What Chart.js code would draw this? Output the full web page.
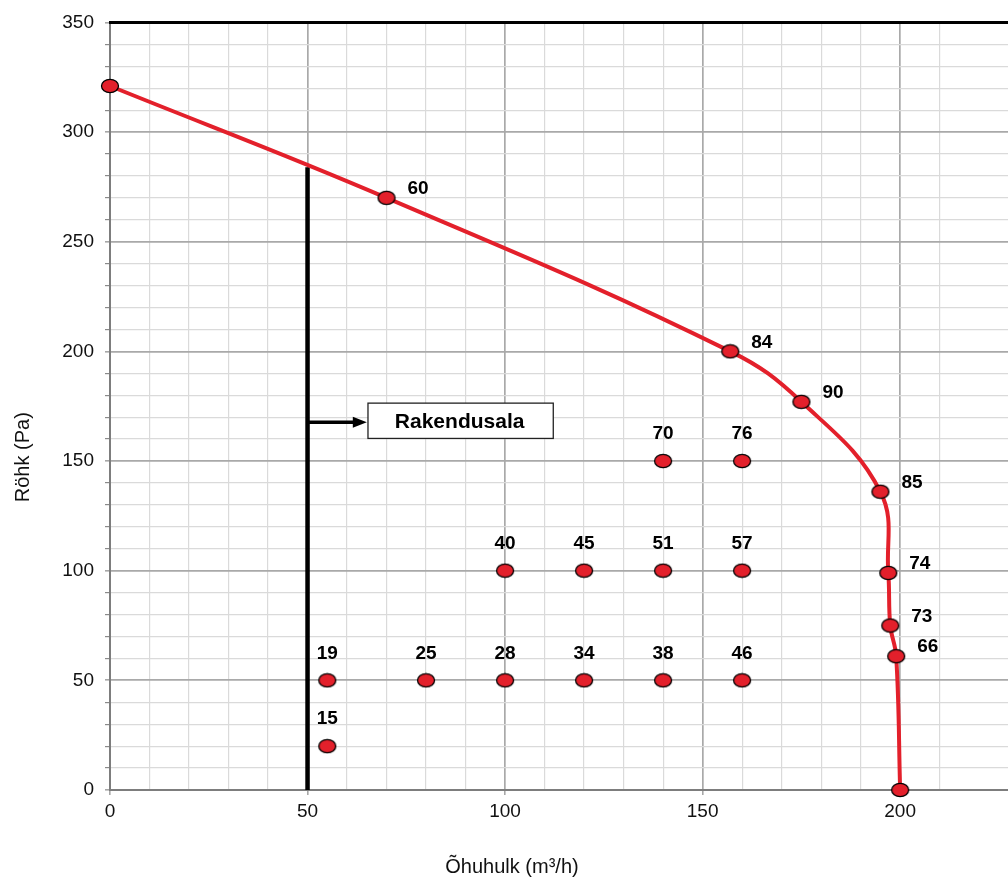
<!DOCTYPE html>
<html>
<head>
<meta charset="utf-8">
<script src="https://cdn.jsdelivr.net/npm/chart.js@4.4.1/dist/chart.umd.min.js"></script>
<style>
  html, body { margin: 0; padding: 0; background: #fff; overflow: hidden; }
  /* slightly wider than the window: the plot runs off the right edge like the original */
  #wrap { width: 1016px; height: 880px; position: relative; }
</style>
</head>
<body>
<div id="wrap"><canvas id="myChart"></canvas></div>
<script>
// fan curve (x = m3/h, y = Pa) and the sound level at each point
const curveX = [0, 70, 157, 175, 195, 197, 197.5, 199, 200];
const curveY = [321, 270, 200, 177, 136, 99, 75, 61, 0];
const curveLabels = ['', '60', '84', '90', '85', '74', '73', '66', ''];

// measured operating points
const pointX = [55, 55, 80, 100, 120, 140, 160, 100, 120, 140, 160, 140, 160];
const pointY = [20, 50, 50, 50, 50, 50, 50, 100, 100, 100, 100, 150, 150];
const pointLabels = ['15', '19', '25', '28', '34', '38', '46', '40', '45', '51', '57', '70', '76'];

// application range limit, arrow and its box
const limitX = [50, 50];
const limitY = [0, 284];
const arrowY = 167.7;
const arrowEndX = 65;
const boxX = [65.3, 112.2];
const boxY = [160.3, 176.4];
const boxText = 'Rakendusala';

const xTitle = 'Õhuhulk (m³/h)';
const yTitle = 'Röhk (Pa)';
const xMax = 227.3;
const yMax = 350;

const red = '#e3202b';
const fontFamily = "'Liberation Sans', Arial, sans-serif";

function makeDot() {
    const c = document.createElement('canvas');
    c.width = 20;
    c.height = 16;
    const g = c.getContext('2d');
    g.beginPath();
    g.ellipse(10, 8, 8.5, 6.7, 0, 0, Math.PI * 2);
    g.fillStyle = red;
    g.fill();
    g.lineWidth = 1.3;
    g.strokeStyle = '#000';
    g.stroke();
    return c;
}
const dot = makeDot();

const toXY = (xs, ys) => xs.map((x, i) => ({x: x, y: ys[i]}));
const isMajor = c => c.tick && Math.abs(c.tick.value % 50) < 1e-6;

const extras = {
    id: 'extras',
    afterDraw(chart) {
        const ctx = chart.ctx;
        const xs = chart.scales.x, ys = chart.scales.y;
        const area = chart.chartArea;
        ctx.save();

        // top frame line
        ctx.strokeStyle = '#000';
        ctx.lineWidth = 3;
        ctx.beginPath();
        ctx.moveTo(area.left - 1, area.top);
        ctx.lineTo(area.right, area.top);
        ctx.stroke();

        // arrow
        const ax0 = xs.getPixelForValue(limitX[0]);
        const ax1 = xs.getPixelForValue(arrowEndX);
        const ay = ys.getPixelForValue(arrowY);
        ctx.lineWidth = 3.5;
        ctx.beginPath();
        ctx.moveTo(ax0, ay);
        ctx.lineTo(ax1 - 10, ay);
        ctx.stroke();
        ctx.fillStyle = '#000';
        ctx.beginPath();
        ctx.moveTo(ax1, ay);
        ctx.lineTo(ax1 - 14, ay - 5.5);
        ctx.lineTo(ax1 - 14, ay + 5.5);
        ctx.closePath();
        ctx.fill();

        // box
        const bx0 = xs.getPixelForValue(boxX[0]), bx1 = xs.getPixelForValue(boxX[1]);
        const by0 = ys.getPixelForValue(boxY[1]), by1 = ys.getPixelForValue(boxY[0]);
        ctx.fillStyle = '#fff';
        ctx.fillRect(bx0, by0, bx1 - bx0, by1 - by0);
        ctx.lineWidth = 1.3;
        ctx.strokeStyle = '#222';
        ctx.strokeRect(bx0, by0, bx1 - bx0, by1 - by0);
        ctx.fillStyle = '#000';
        ctx.font = 'bold 21px ' + fontFamily;
        ctx.textAlign = 'center';
        ctx.textBaseline = 'middle';
        ctx.fillText(boxText, (bx0 + bx1) / 2 - 1, (by0 + by1) / 2 + 1);

        // point labels
        ctx.font = 'bold 19px ' + fontFamily;
        chart.getDatasetMeta(0).data.forEach((el, i) => {
            if (!curveLabels[i]) return;
            ctx.textAlign = 'left';
            ctx.fillText(curveLabels[i], el.x + 21, el.y - 9);
        });
        chart.getDatasetMeta(1).data.forEach((el, i) => {
            ctx.textAlign = 'center';
            ctx.fillText(pointLabels[i], el.x, el.y - 27);
        });

        // axis titles
        ctx.font = '20px ' + fontFamily;
        ctx.fillStyle = '#111';
        ctx.textAlign = 'center';
        ctx.fillText(xTitle, 512, chart.height - 13);
        ctx.translate(23, (area.top + chart.height) / 2 + 6);
        ctx.rotate(-Math.PI / 2);
        ctx.fillText(yTitle, 0, 0);
        ctx.restore();
    }
};

const ctx = document.getElementById('myChart').getContext('2d');

const myChart = new Chart(ctx, {
    type: 'scatter',
    data: {
        datasets: [{
            data: toXY(curveX, curveY),
            showLine: true,
            borderColor: red,
            borderWidth: 4,
            tension: 0.4,
            pointStyle: dot,
            clip: false
        }, {
            data: toXY(pointX, pointY),
            showLine: false,
            pointStyle: dot,
            clip: false
        }, {
            data: toXY(limitX, limitY),
            showLine: true,
            borderColor: '#000',
            borderWidth: 4.5,
            pointRadius: 0
        }]
    },
    options: {
        responsive: true,
        maintainAspectRatio: false,
        animation: false,
        events: [],
        layout: { padding: { top: 22, right: 0, left: 0, bottom: 0 } },
        plugins: {
            legend: { display: false },
            tooltip: { enabled: false }
        },
        scales: {
            x: {
                min: 0,
                max: xMax,
                afterBuildTicks: s => { s.ticks = s.ticks.filter(t => Math.abs(t.value % 10) < 1e-6); },
                afterFit: s => { s.height = 90; },
                ticks: {
                    stepSize: 10,
                    autoSkip: false,
                    maxRotation: 0,
                    padding: 5,
                    color: '#111',
                    font: { family: fontFamily, size: 19 },
                    callback: v => (v % 50 === 0 ? v : '')
                },
                grid: {
                    color: c => (isMajor(c) ? '#a9a9a9' : '#dadada'),
                    lineWidth: c => (isMajor(c) ? 1.7 : 1.2),
                    tickLength: 5,
                    // only the labelled ticks get a mark below the axis
                    tickColor: c => (isMajor(c) ? '#8a8a8a' : 'rgba(0,0,0,0)'),
                    tickWidth: 1.2
                },
                border: { color: '#7d7d7d', width: 2 }
            },
            y: {
                min: 0,
                max: yMax,
                afterFit: s => { s.width = 110; },
                ticks: {
                    stepSize: 10,
                    autoSkip: false,
                    padding: 11,
                    color: '#111',
                    font: { family: fontFamily, size: 19 },
                    callback: v => (v % 50 === 0 ? v : '')
                },
                grid: {
                    color: c => (isMajor(c) ? '#a9a9a9' : '#dadada'),
                    lineWidth: c => (isMajor(c) ? 1.7 : 1.2),
                    tickLength: 5,
                    tickColor: '#8a8a8a',
                    tickWidth: 1.2
                },
                border: { color: '#7d7d7d', width: 2 }
            }
        }
    },
    plugins: [extras]
});
</script>
</body>
</html>
